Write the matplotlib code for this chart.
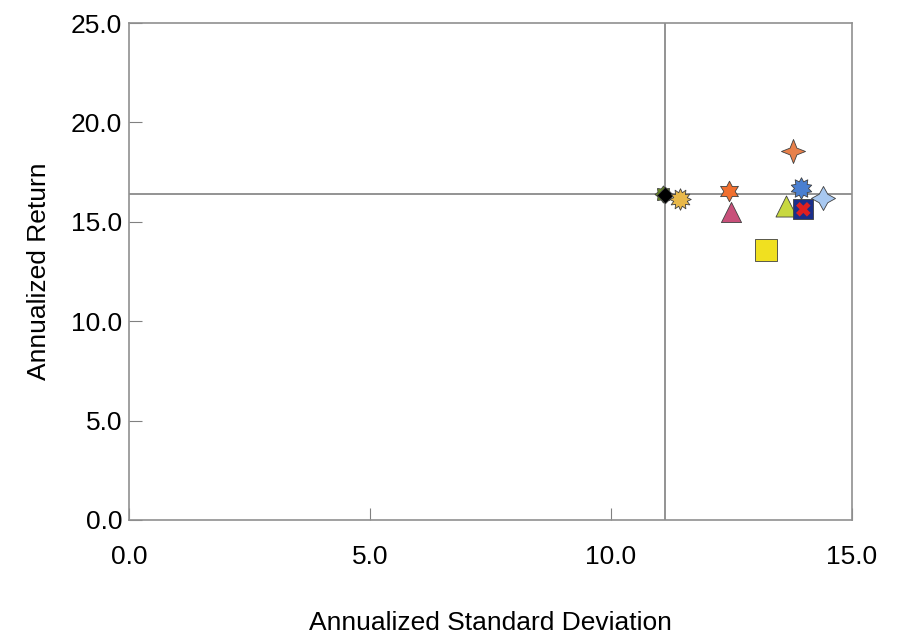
import matplotlib
matplotlib.use("Agg")
import matplotlib.pyplot as plt
from matplotlib.path import Path
import numpy as np

# (std dev, return) for each fund / index
STD = [11.08, 11.12, 11.43, 12.45, 12.49, 13.78, 13.95, 14.39, 13.64, 13.99, 13.99, 13.22]
RET = [16.40, 16.35, 16.15, 16.55, 15.50, 18.58, 16.68, 16.18, 15.80, 15.63, 15.63, 13.58]
COLORS = ["#6b8e23", "#000000", "#e8b84a", "#f07030", "#c8507a", "#e8804a",
          "#4a7fd0", "#a8c8f0", "#c8d840", "#1a2f8a", "#e02020", "#f0e020"]
REF_STD = 11.12
REF_RET = 16.4


def star_marker(n, inner):
    ang = np.linspace(0, 2 * np.pi, 2 * n, endpoint=False) + np.pi / 2
    r = np.where(np.arange(2 * n) % 2 == 0, 1.0, inner)
    verts = np.column_stack([r * np.cos(ang), r * np.sin(ang)])
    verts = np.vstack([verts, verts[:1]])
    codes = [Path.MOVETO] + [Path.LINETO] * (2 * n - 1) + [Path.CLOSEPOLY]
    return Path(verts, codes)


MARKERS = [star_marker(8, 0.7), "D", star_marker(12, 0.65), star_marker(6, 0.55),
           "^", star_marker(4, 0.4), star_marker(10, 0.65), star_marker(4, 0.5),
           "^", "s", "X", "s"]
SIZES = [150, 70, 240, 220, 210, 300, 240, 300, 230, 220, 110, 230]

plt.rcParams["font.family"] = ["Liberation Sans Narrow", "Liberation Sans", "DejaVu Sans"]

fig = plt.figure(figsize=(9.01, 6.41), dpi=100)
ax = fig.add_axes([0.1432, 0.1888, 0.8024, 0.7753])

ax.axvline(REF_STD, color="#808080", lw=1.2, zorder=1)
ax.axhline(REF_RET, color="#808080", lw=1.2, zorder=1)

for x, y, c, m, s in zip(STD, RET, COLORS, MARKERS, SIZES):
    ec = "none" if m == "X" else "#404040"
    ax.scatter(x, y, s=s, c=c, marker=m, edgecolors=ec, linewidths=0.6, zorder=3)

ax.set_xlim(0, 15)
ax.set_ylim(0, 25)
ax.set_xticks([0, 5, 10, 15])
ax.set_yticks([0, 5, 10, 15, 20, 25])
ax.set_xticklabels(["0.0", "5.0", "10.0", "15.0"])
ax.set_yticklabels(["0.0", "5.0", "10.0", "15.0", "20.0", "25.0"])
ax.tick_params(direction="in", length=9, color="#808080", labelsize=19)
ax.tick_params(axis="x", pad=18)
ax.tick_params(axis="y", pad=5)
for sp in ax.spines.values():
    sp.set_color("#909090")
    sp.set_linewidth(1.2)

ax.set_xlabel("Annualized Standard Deviation", fontsize=19, labelpad=30)
ax.set_ylabel("Annualized Return", fontsize=19, labelpad=14)

fig.savefig("out.png", dpi=100)
